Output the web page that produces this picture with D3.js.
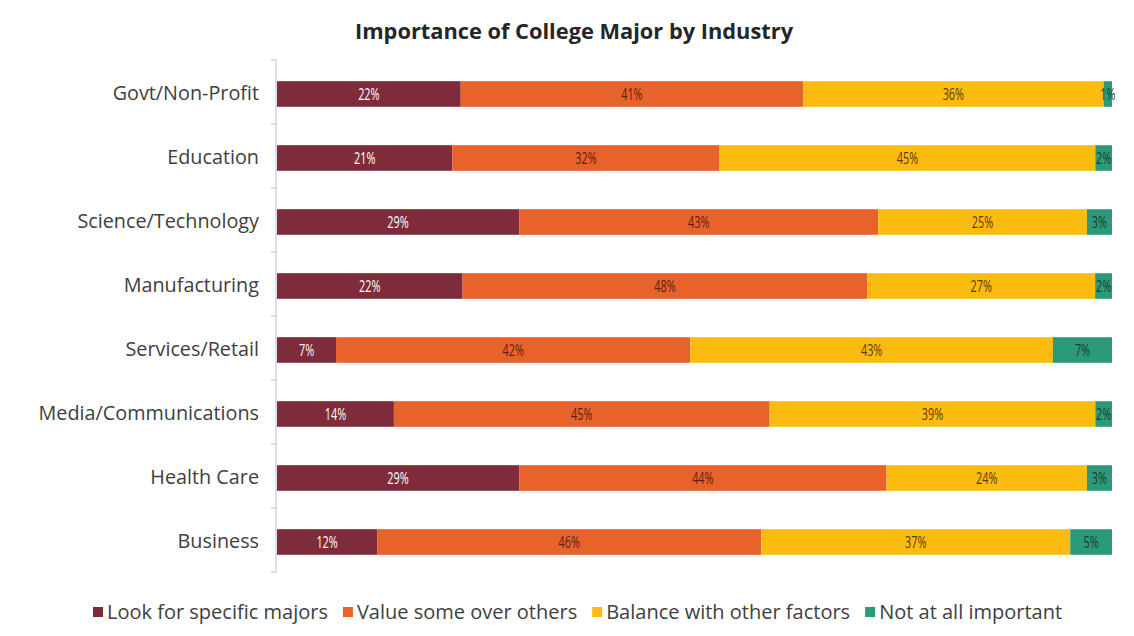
<!DOCTYPE html>
<html>
<head>
<meta charset="utf-8">
<script src="https://cdn.jsdelivr.net/npm/d3@7"></script>
<style>
  html, body { margin: 0; padding: 0; background: #ffffff; }
  svg { display: block; }
</style>
</head>
<body>
<svg id="chart" width="1134" height="636"></svg>
<script>
// Survey responses: share of employers per industry, in percent
const industries = ["Govt/Non-Profit", "Education", "Science/Technology", "Manufacturing",
  "Services/Retail", "Media/Communications", "Health Care", "Business"];
const seriesNames = ["Look for specific majors", "Value some over others",
  "Balance with other factors", "Not at all important"];
const lookForSpecific = [22, 21, 29, 22, 7, 14, 29, 12];
const valueSomeOver   = [41, 32, 43, 48, 42, 45, 44, 46];
const balanceWith     = [36, 45, 25, 27, 43, 39, 24, 37];
const notImportant    = [1, 2, 3, 2, 7, 2, 3, 5];
const colors = ["#7e2b3b", "#e8622b", "#fcbb10", "#2b9a7b"];
const labelColors = ["#ffffff", "#5a2410", "#5a3a00", "#1f3a30"];

const seriesValues = [lookForSpecific, valueSomeOver, balanceWith, notImportant];
const rows = industries.map((name, i) => {
  const r = { name };
  seriesNames.forEach((s, k) => { r[s] = seriesValues[k][i]; });
  return r;
});

const stacked = d3.stack().keys(seriesNames).offset(d3.stackOffsetExpand)(rows);

const svg = d3.select("#chart");
const font = "'Open Sans', sans-serif";

const x = d3.scaleLinear().domain([0, 1]).range([277, 1112]);
const y = d3.scaleBand().domain(industries).range([62, 574]).paddingInner(0.6).paddingOuter(0.3);
const axisTop = 60, axisBottom = 572;

// Title
svg.append("text")
  .attr("x", 574).attr("y", 39)
  .attr("text-anchor", "middle")
  .attr("font-family", font).attr("font-weight", "bold")
  .attr("font-size", 21.8).attr("fill", "#262626")
  .text("Importance of College Major by Industry");

// Bars
const groups = svg.append("g").selectAll("g")
  .data(stacked).join("g")
  .attr("fill", (d, i) => colors[i]);

groups.selectAll("rect")
  .data(d => d.map(p => ({ p, key: d.key, idx: d.index })))
  .join("rect")
  .attr("x", d => x(d.p[0]))
  .attr("width", d => x(d.p[1]) - x(d.p[0]))
  .attr("y", d => y(d.p.data.name))
  .attr("height", y.bandwidth());

// Value labels, set in a condensed style
groups.selectAll("text")
  .data(d => d.map(p => ({ p, key: d.key, idx: d.index })))
  .join("text")
  .attr("transform", d => {
    const cx = (x(d.p[0]) + x(d.p[1])) / 2;
    const cy = y(d.p.data.name) + y.bandwidth() / 2;
    return `translate(${cx},${cy}) scale(0.68,1)`;
  })
  .attr("dy", "0.36em")
  .attr("text-anchor", "middle")
  .attr("font-family", font).attr("font-size", 16)
  .attr("fill", d => labelColors[d.idx])
  .text(d => d.p.data[d.key] + "%");

// Category axis
const yAxis = d3.axisLeft(y).tickSize(0).tickPadding(17);
const axisG = svg.append("g").attr("transform", "translate(276,0)").call(yAxis);
axisG.select(".domain").remove();
axisG.selectAll(".tick text")
  .attr("font-family", font).attr("font-size", 19.8).attr("fill", "#404040");

axisG.append("line")
  .attr("x1", 0).attr("x2", 0).attr("y1", axisTop).attr("y2", axisBottom)
  .attr("stroke", "#bfbfbf");

// Boundary ticks between categories
const stepPx = (axisBottom - axisTop) / industries.length;
axisG.append("g").selectAll("line")
  .data(d3.range(industries.length + 1)).join("line")
  .attr("x1", -5).attr("x2", 0)
  .attr("y1", i => axisTop + i * stepPx).attr("y2", i => axisTop + i * stepPx)
  .attr("stroke", "#bfbfbf");

// Legend
const legend = svg.append("g").attr("transform", "translate(93,612)");
let lx = 0;
seriesNames.forEach((name, i) => {
  const g = legend.append("g").attr("transform", `translate(${lx},0)`);
  g.append("rect").attr("x", 0).attr("y", -5).attr("width", 10).attr("height", 10).attr("fill", colors[i]);
  const t = g.append("text").attr("x", 14).attr("y", 0).attr("dy", "0.35em")
    .attr("font-family", font).attr("font-size", 20).attr("fill", "#404040").text(name);
  lx += 14 + t.node().getComputedTextLength() + 15;
});
</script>
</body>
</html>
